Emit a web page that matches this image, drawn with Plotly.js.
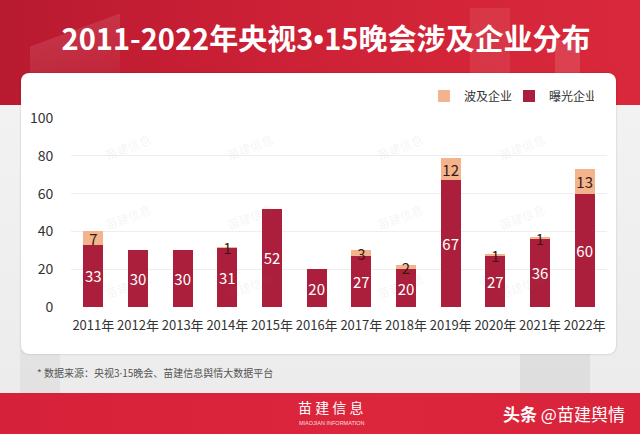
<!DOCTYPE html>
<html>
<head>
<meta charset="utf-8">
<script src="https://cdn.plot.ly/plotly-3.0.1.min.js"></script>
<style>
  html, body { margin:0; padding:0; width:640px; height:434px; overflow:hidden; background:#f1f1f1; }
  #wrap { position:relative; width:640px; height:434px; }
  #topband { position:absolute; left:0; top:0; width:640px; height:105px;
    background: linear-gradient(90deg, #b81a30 0%, #c91f35 35%, #d42538 70%, #d9283b 100%); }
  #deco1 { position:absolute; left:30px; top:30px; width:90px; height:75px;
    background: linear-gradient(180deg, rgba(255,255,255,0.10), rgba(255,255,255,0.02)); transform: skewY(-20deg); }
  #deco2 { position:absolute; left:470px; top:8px; width:40px; height:97px; background: rgba(255,255,255,0.08); }
  #deco3 { position:absolute; left:555px; top:40px; width:25px; height:65px; background: rgba(255,255,255,0.12); }
  #graybg { position:absolute; left:0; top:105px; width:640px; height:288px;
    background: linear-gradient(180deg, #f3f2f2 0%, #ececec 100%); }
  #deco4 { position:absolute; left:520px; top:350px; width:70px; height:43px; background: rgba(0,0,0,0.06); }
  #deco5 { position:absolute; left:20px; top:350px; width:40px; height:43px; background: rgba(0,0,0,0.04); }
  #card { position:absolute; left:21px; top:73px; width:595px; height:281px; background:#fff;
    border-radius:8px; box-shadow: 0 0 2px rgba(0,0,0,0.25); }
  #footer { position:absolute; left:0; top:393px; width:640px; height:41px;
    background: linear-gradient(90deg, #d6213a 0%, #dc263c 60%, #d8233a 100%); }
  #chart { position:absolute; left:0; top:0; width:640px; height:434px; }
</style>
</head>
<body>
<div id="wrap">
  <div id="topband"></div>
  <div id="deco1"></div>
  <div id="deco2"></div>
  <div id="deco3"></div>
  <div id="graybg"></div>
  <div id="deco4"></div>
  <div id="deco5"></div>
  <div id="card"></div>
  <div id="footer"></div>
  <div id="chart"></div>
</div>
<script>
// ---- data ----
const years = ['2011年','2012年','2013年','2014年','2015年','2016年','2017年','2018年','2019年','2020年','2021年','2022年'];
const exposed = [33, 30, 30, 31, 52, 20, 27, 20, 67, 27, 36, 60];   // 曝光企业
const affected = [7, 0, 0, 1, 0, 0, 3, 2, 12, 1, 1, 13];          // 波及企业
const yTicks = [0, 20, 40, 60, 80, 100];
const LATIN_SPAN = '<span style="font-family:\'Noto Sans\'">';
const titleText = '2011-2022年央视3' + LATIN_SPAN + '•</span>15晚会涉及企业分布';
const sourceText = '* 数据来源：央视3' + LATIN_SPAN + '·</span>15晚会、苗建信息舆情大数据平台';

const CJK = '"Noto Sans CJK SC", "Noto Sans", sans-serif';
const RED = '#AC1F3C';
const PEACH = '#F2B38D';

const traces = [
  {
    type: 'bar', name: '曝光企业', x: years, y: exposed,
    marker: { color: RED },
    width: 0.45,
    text: exposed.map(v => v ? String(v) : ''),
    textposition: 'inside', insidetextanchor: 'middle', constraintext: 'none', textangle: 0,
    textfont: { family: CJK, size: 15, color: '#ffffff' },
    hoverinfo: 'skip'
  },
  {
    type: 'bar', name: '波及企业', x: years, y: affected,
    marker: { color: PEACH },
    width: 0.45,
    text: affected.map(v => v ? String(v) : ''),
    textposition: 'inside', insidetextanchor: 'middle', constraintext: 'none', textangle: 0,
    textfont: { family: CJK, size: 15, color: '#3a1a12' },
    hoverinfo: 'skip'
  }
];

// faint watermarks
const wmX = [100, 250, 400, 550];
const wmY = [128, 216, 304];
const annotations = [];
wmY.forEach(yy => wmX.forEach(xx => annotations.push({
  xref: 'paper', yref: 'paper',
  x: (xx - 71) / 536, y: (307 - yy) / 189,
  text: '苗建信息', showarrow: false, textangle: -20,
  font: { family: CJK, size: 12, color: 'rgba(120,120,120,0.09)' }
})));

annotations.push({
  xref: 'paper', yref: 'paper', x: (35 - 71) / 536, y: (307 - 372) / 189,
  xanchor: 'left', yanchor: 'middle', showarrow: false,
  text: sourceText, font: { family: CJK, size: 10, color: '#555555' }
});
annotations.push({
  xref: 'paper', yref: 'paper', x: (296 - 71) / 536, y: (307 - 407) / 189,
  xanchor: 'left', yanchor: 'middle', showarrow: false,
  text: '苗 建 信 息', font: { family: CJK, size: 14, color: '#ffffff' }
});
annotations.push({
  xref: 'paper', yref: 'paper', x: (297 - 71) / 536, y: (307 - 423) / 189,
  xanchor: 'left', yanchor: 'middle', showarrow: false,
  text: 'MIAOJIAN INFORMATION', font: { family: 'Liberation Sans, sans-serif', size: 5.5, color: 'rgba(255,255,255,0.85)' }
});
annotations.push({
  xref: 'paper', yref: 'paper', x: (627 - 71) / 536, y: (307 - 413) / 189,
  xanchor: 'right', yanchor: 'middle', showarrow: false,
  text: '<b>头条</b> @苗建舆情', font: { family: CJK, size: 17, color: '#ffffff' }
});

const layout = {
  width: 640, height: 434,
  margin: { l: 71, r: 33, t: 118, b: 127, pad: 0, autoexpand: false },
  paper_bgcolor: 'rgba(0,0,0,0)', plot_bgcolor: 'rgba(0,0,0,0)',
  barmode: 'stack',
  title: {
    text: '<b>' + titleText + '</b>',
    font: { family: CJK, size: 29, color: '#ffffff' },
    xref: 'container', yref: 'container', x: 326 / 640, xanchor: 'center',
    y: 1 - 40 / 434, yanchor: 'middle'
  },
  xaxis: {
    type: 'category', showgrid: false, zeroline: false, showline: false,
    ticks: 'outside', ticklen: 6, tickcolor: 'rgba(0,0,0,0)', tickangle: 0,
    tickfont: { family: CJK, size: 13, color: '#333333' }
  },
  yaxis: {
    range: [0, 100], tickvals: yTicks, ticktext: yTicks.map(String),
    showgrid: true, gridcolor: '#eeeeee', gridwidth: 1,
    zeroline: false, showline: false,
    ticks: 'outside', ticklen: 14, tickcolor: 'rgba(0,0,0,0)',
    tickfont: { family: CJK, size: 14, color: '#333333' }
  },
  showlegend: true,
  legend: {
    orientation: 'h', traceorder: 'reversed',
    x: (424 - 71) / 536, xanchor: 'left',
    y: (307 - 96) / 189, yanchor: 'middle',
    bgcolor: 'rgba(0,0,0,0)',
    font: { family: CJK, size: 12, color: '#333333' },
    itemwidth: 30,
    entrywidth: 40, entrywidthmode: 'pixels'
  },
  annotations: annotations
};

Plotly.newPlot('chart', traces, layout, { displayModeBar: false, staticPlot: true });
</script>
</body>
</html>
